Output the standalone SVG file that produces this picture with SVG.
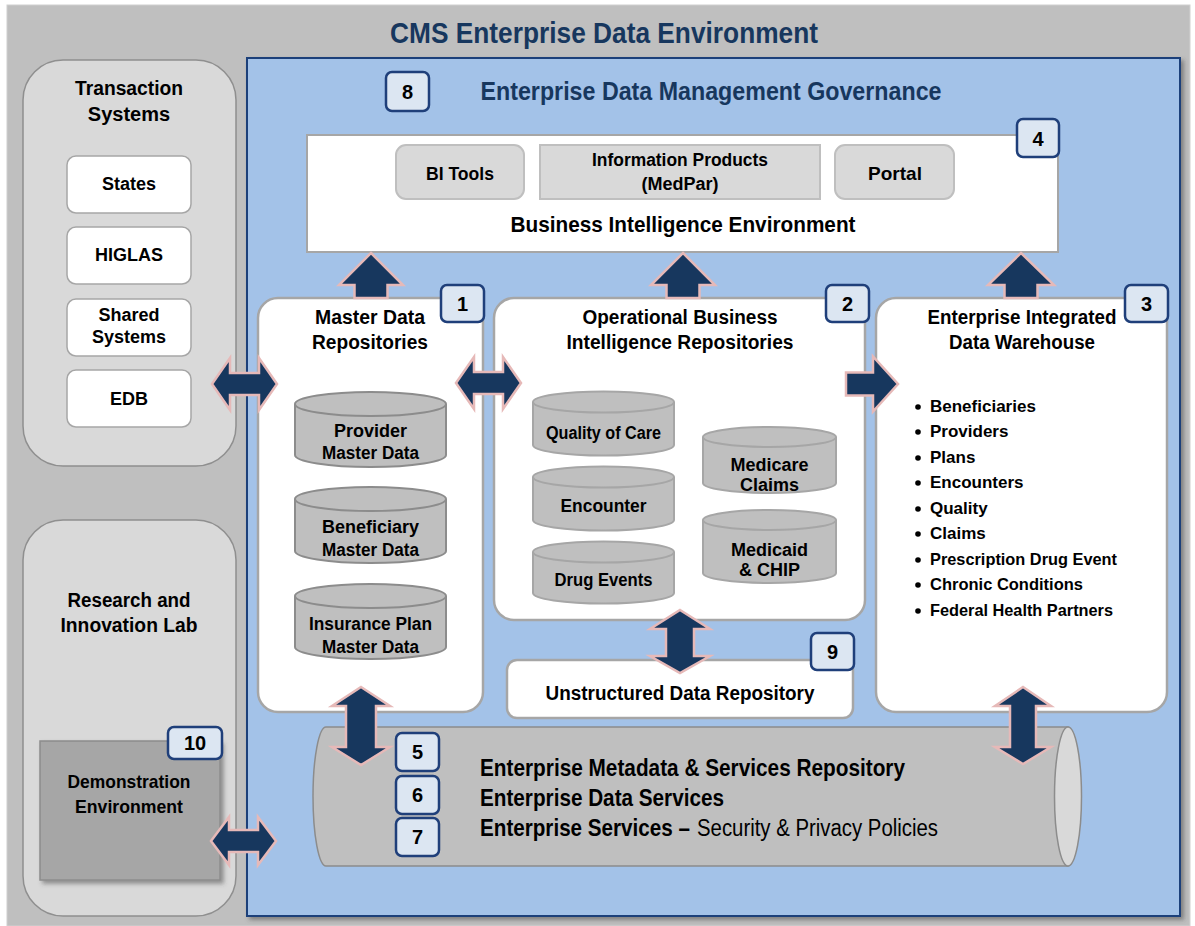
<svg xmlns="http://www.w3.org/2000/svg" width="1195" height="926" viewBox="0 0 1195 926">
<defs>
<style>
text{font-family:'Liberation Sans Narrow','Liberation Sans',Arial,sans-serif;font-weight:bold;fill:#000;text-anchor:middle}
.title{fill:#17375e;font-size:30px}
.gov{fill:#17375e;font-size:26px}
.badge rect{fill:#dce6f2;stroke:#1f3f7a;stroke-width:2.5}
.badge text{font-size:20px}
.panel{fill:#d9d9d9;stroke:#8f8f8f;stroke-width:1.5}
.sys{fill:#fff;stroke:#a6a6a6;stroke-width:1.5}
.box{fill:#fff;stroke:#a6a6a6;stroke-width:2.5}
.tool{fill:#d9d9d9;stroke:#bfbfbf;stroke-width:2}
.cyl{fill:#bfbfbf;stroke:#8c8c8c;stroke-width:2}
.cyl2{fill:#bfbfbf;stroke:#a6a6a6;stroke-width:2}
.arrow{fill:#17375e;stroke:#e6b9b8;stroke-width:2.5;stroke-linejoin:miter}
.t20{font-size:20px}
.t18{font-size:18px}
.t19{font-size:19px}
.t22{font-size:22px}
.bul{font-size:17px;text-anchor:start}
.pipe{font-size:23px;text-anchor:start}
.reg{font-weight:normal}
</style>
<filter id="sh" x="-10%" y="-10%" width="130%" height="130%">
<feDropShadow dx="3" dy="3" stdDeviation="2" flood-color="#404040" flood-opacity="0.5"/>
</filter>
</defs>

<rect x="7" y="5" width="1183" height="921" fill="#bfbfbf" stroke="#d0d0d0" stroke-width="1"/>
<text class="title" x="604" y="43" textLength="428" lengthAdjust="spacingAndGlyphs">CMS Enterprise Data Environment</text>

<g id="edm-governance">
<rect x="247" y="58" width="933" height="858" fill="#a3c2e8" stroke="#1f3f7a" stroke-width="2" filter="url(#sh)"/>
<text class="gov" x="711" y="100" textLength="461" lengthAdjust="spacingAndGlyphs">Enterprise Data Management Governance</text>
<g class="badge"><rect x="386" y="72" width="43" height="39" rx="6"/><text x="407.5" y="99">8</text></g>
</g>

<g id="transaction-systems">
<rect class="panel" x="23" y="60" width="213" height="406" rx="40"/>
<text class="t20" x="129" y="95" textLength="108" lengthAdjust="spacingAndGlyphs">Transaction</text>
<text class="t20" x="129" y="121">Systems</text>
<g id="states"><rect class="sys" x="67" y="156" width="124" height="57" rx="9"/><text class="t18" x="129" y="190">States</text></g>
<g id="higlas"><rect class="sys" x="67" y="227" width="124" height="57" rx="9"/><text class="t18" x="129" y="261">HIGLAS</text></g>
<g id="shared-systems"><rect class="sys" x="67" y="299" width="124" height="57" rx="9"/><text class="t18" x="129" y="321">Shared</text><text class="t18" x="129" y="343">Systems</text></g>
<g id="edb"><rect class="sys" x="67" y="370" width="124" height="57" rx="9"/><text class="t18" x="129" y="405">EDB</text></g>
</g>

<g id="research-lab">
<rect class="panel" x="23" y="520" width="213" height="396" rx="40"/>
<text class="t20" x="129" y="607" textLength="123" lengthAdjust="spacingAndGlyphs">Research and</text>
<text class="t20" x="129" y="632" textLength="137" lengthAdjust="spacingAndGlyphs">Innovation Lab</text>
<g id="demonstration">
<rect x="40" y="741" width="180" height="139" fill="#a6a6a6" stroke="#8c8c8c" stroke-width="1.5" filter="url(#sh)"/>
<text class="t19" x="129" y="788" textLength="123" lengthAdjust="spacingAndGlyphs">Demonstration</text>
<text class="t19" x="129" y="813" textLength="108" lengthAdjust="spacingAndGlyphs">Environment</text>
<g class="badge"><rect x="168" y="727" width="54" height="32" rx="6"/><text x="195" y="750">10</text></g>
</g>
</g>

<g id="bi-environment">
<rect x="307" y="135" width="751" height="117" fill="#fff" stroke="#a6a6a6" stroke-width="2"/>
<rect class="tool" x="396" y="145" width="128" height="54" rx="10"/>
<text class="t19" x="460" y="180" textLength="68" lengthAdjust="spacingAndGlyphs">BI Tools</text>
<rect class="tool" x="540" y="145" width="280" height="54"/>
<text class="t18" x="680" y="166" textLength="176" lengthAdjust="spacingAndGlyphs">Information Products</text>
<text class="t18" x="680" y="190">(MedPar)</text>
<rect class="tool" x="835" y="145" width="119" height="54" rx="10"/>
<text class="t19" x="895" y="180">Portal</text>
<text class="t22" x="683" y="232" textLength="345" lengthAdjust="spacingAndGlyphs">Business Intelligence Environment</text>
<g class="badge"><rect x="1017" y="119" width="42" height="38" rx="6"/><text x="1038" y="146">4</text></g>
</g>

<g id="master-data">
<rect class="box" x="258" y="298" width="225" height="414" rx="20"/>
<text class="t20" x="370" y="324" textLength="110" lengthAdjust="spacingAndGlyphs">Master Data</text>
<text class="t20" x="370" y="349" textLength="116" lengthAdjust="spacingAndGlyphs">Repositories</text>
<g class="cyl">
<path d="M295,404 L295,455 A75.5,12 0 0 0 446,455 L446,404"/><ellipse cx="370.5" cy="404" rx="75.5" ry="12"/>
<path d="M295,499 L295,551 A75.5,12 0 0 0 446,551 L446,499"/><ellipse cx="370.5" cy="499" rx="75.5" ry="12"/>
<path d="M295,596 L295,647 A75.5,12 0 0 0 446,647 L446,596"/><ellipse cx="370.5" cy="596" rx="75.5" ry="12"/>
</g>
<text class="t18" x="370.5" y="437">Provider</text>
<text class="t18" x="370.5" y="459" textLength="97" lengthAdjust="spacingAndGlyphs">Master Data</text>
<text class="t18" x="370.5" y="533">Beneficiary</text>
<text class="t18" x="370.5" y="556" textLength="97" lengthAdjust="spacingAndGlyphs">Master Data</text>
<text class="t18" x="370.5" y="630" textLength="123" lengthAdjust="spacingAndGlyphs">Insurance Plan</text>
<text class="t18" x="370.5" y="653" textLength="97" lengthAdjust="spacingAndGlyphs">Master Data</text>
<g class="badge"><rect x="441" y="285" width="43" height="37" rx="6"/><text x="462.5" y="311">1</text></g>
</g>

<g id="operational-bi">
<rect class="box" x="494" y="298" width="371" height="322" rx="20"/>
<text class="t20" x="680" y="324" textLength="195" lengthAdjust="spacingAndGlyphs">Operational Business</text>
<text class="t20" x="680" y="349" textLength="227" lengthAdjust="spacingAndGlyphs">Intelligence Repositories</text>
<g class="cyl2">
<path d="M533,402 L533,445 A70.5,10.5 0 0 0 674,445 L674,402"/><ellipse cx="603.5" cy="402" rx="70.5" ry="10.5"/>
<path d="M533,477 L533,520 A70.5,10.5 0 0 0 674,520 L674,477"/><ellipse cx="603.5" cy="477" rx="70.5" ry="10.5"/>
<path d="M533,552 L533,593 A70.5,10.5 0 0 0 674,593 L674,552"/><ellipse cx="603.5" cy="552" rx="70.5" ry="10.5"/>
<path d="M703,437 L703,483 A66.5,10 0 0 0 836,483 L836,437"/><ellipse cx="769.5" cy="437" rx="66.5" ry="10"/>
<path d="M703,520 L703,573 A66.5,10 0 0 0 836,573 L836,520"/><ellipse cx="769.5" cy="520" rx="66.5" ry="10"/>
</g>
<text class="t18" x="603.5" y="439" textLength="115" lengthAdjust="spacingAndGlyphs">Quality of Care</text>
<text class="t18" x="603.5" y="512" textLength="86" lengthAdjust="spacingAndGlyphs">Encounter</text>
<text class="t18" x="603.5" y="586" textLength="98" lengthAdjust="spacingAndGlyphs">Drug Events</text>
<text class="t18" x="769.5" y="471">Medicare</text>
<text class="t18" x="769.5" y="491">Claims</text>
<text class="t18" x="769.5" y="556">Medicaid</text>
<text class="t18" x="769.5" y="576">&amp; CHIP</text>
<g class="badge"><rect x="826" y="285" width="43" height="37" rx="6"/><text x="847.5" y="311">2</text></g>
</g>

<g id="data-warehouse">
<rect class="box" x="876" y="298" width="291" height="414" rx="20"/>
<text class="t20" x="1022" y="324" textLength="189" lengthAdjust="spacingAndGlyphs">Enterprise Integrated</text>
<text class="t20" x="1022" y="349" textLength="146" lengthAdjust="spacingAndGlyphs">Data Warehouse</text>
<g fill="#000">
<circle cx="918" cy="407" r="2.8"/><circle cx="918" cy="432" r="2.8"/><circle cx="918" cy="458" r="2.8"/>
<circle cx="918" cy="483" r="2.8"/><circle cx="918" cy="509" r="2.8"/><circle cx="918" cy="534" r="2.8"/>
<circle cx="918" cy="560" r="2.8"/><circle cx="918" cy="585" r="2.8"/><circle cx="918" cy="611" r="2.8"/>
</g>
<text class="bul" x="930" y="412">Beneficiaries</text>
<text class="bul" x="930" y="437">Providers</text>
<text class="bul" x="930" y="463">Plans</text>
<text class="bul" x="930" y="488">Encounters</text>
<text class="bul" x="930" y="514">Quality</text>
<text class="bul" x="930" y="539">Claims</text>
<text class="bul" x="930" y="565" textLength="187" lengthAdjust="spacingAndGlyphs">Prescription Drug Event</text>
<text class="bul" x="930" y="590" textLength="153" lengthAdjust="spacingAndGlyphs">Chronic Conditions</text>
<text class="bul" x="930" y="616" textLength="183" lengthAdjust="spacingAndGlyphs">Federal Health Partners</text>
<g class="badge"><rect x="1125" y="285" width="43" height="37" rx="6"/><text x="1146.5" y="311">3</text></g>
</g>

<g id="unstructured-repository">
<rect class="box" x="507" y="660" width="346" height="58" rx="10"/>
<text class="t20" x="680" y="700" textLength="269" lengthAdjust="spacingAndGlyphs">Unstructured Data Repository</text>
<g class="badge"><rect x="811" y="633" width="43" height="37" rx="6"/><text x="832.5" y="659">9</text></g>
</g>

<g id="metadata-services">
<path d="M326,727 L1068,727 L1068,866 L326,866 A13,69.5 0 0 1 326,727 Z" fill="#bfbfbf" stroke="#8c8c8c" stroke-width="1.5"/>
<ellipse cx="1068" cy="796.5" rx="13.5" ry="69.5" fill="#d9d9d9" stroke="#8c8c8c" stroke-width="1.5"/>
<g class="badge"><rect x="396" y="733" width="43" height="38" rx="6"/><text x="417.5" y="759">5</text></g>
<g class="badge"><rect x="396" y="776" width="43" height="38" rx="6"/><text x="417.5" y="802">6</text></g>
<g class="badge"><rect x="396" y="818" width="43" height="38" rx="6"/><text x="417.5" y="844">7</text></g>
<text class="pipe" x="480" y="776" textLength="425" lengthAdjust="spacingAndGlyphs">Enterprise Metadata &amp; Services Repository</text>
<text class="pipe" x="480" y="806" textLength="244" lengthAdjust="spacingAndGlyphs">Enterprise Data Services</text>
<text class="pipe" x="480" y="836" textLength="210" lengthAdjust="spacingAndGlyphs">Enterprise Services –</text>
<text class="pipe reg" x="697" y="836" textLength="241" lengthAdjust="spacingAndGlyphs">Security &amp; Privacy Policies</text>
</g>

<g id="connectors">
<path class="arrow" d="M371,253 L403,285 L387.5,285 L387.5,298 L354.5,298 L354.5,285 L339,285 Z"/>
<path class="arrow" d="M683,253 L715,285 L699.5,285 L699.5,298 L666.5,298 L666.5,285 L651,285 Z"/>
<path class="arrow" d="M1021,253 L1054,285 L1037.5,285 L1037.5,298 L1004.5,298 L1004.5,285 L988,285 Z"/>
<path class="arrow" d="M212,384 L230,358 L230,373 L259,373 L259,358 L277,384 L259,410 L259,395 L230,395 L230,410 Z"/>
<path class="arrow" d="M456,383 L474,357 L474,372 L503,372 L503,357 L521,383 L503,409 L503,394 L474,394 L474,409 Z"/>
<path class="arrow" d="M846,372.5 L873,372.5 L873,356.5 L898,384 L873,411.5 L873,395.5 L846,395.5 Z"/>
<path class="arrow" d="M211,841 L229,817 L229,830 L258,830 L258,817 L276,841 L258,865 L258,852 L229,852 L229,865 Z"/>
<path class="arrow" d="M361,687 L390,706 L376,706 L376,747 L390,747 L361,765 L332,747 L346,747 L346,706 L332,706 Z"/>
<path class="arrow" d="M680,610 L710,629 L694,629 L694,656 L710,656 L680,673 L650,656 L666,656 L666,629 L650,629 Z"/>
<path class="arrow" d="M1023,687 L1051,706 L1036,706 L1036,747 L1051,747 L1023,764 L995,747 L1010,747 L1010,706 L995,706 Z"/>
</g>
</svg>
